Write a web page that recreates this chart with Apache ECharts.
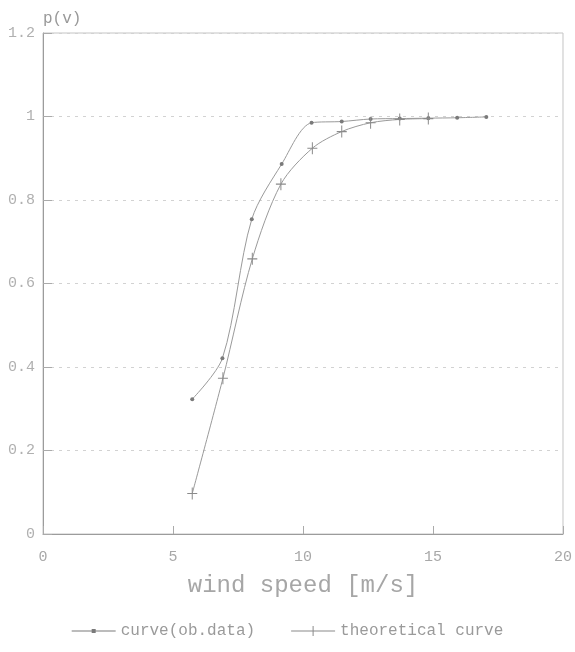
<!DOCTYPE html>
<html>
<head>
<meta charset="utf-8">
<script src="https://cdn.jsdelivr.net/npm/echarts@6/dist/echarts.min.js"></script>
<style>
  html, body { margin: 0; padding: 0; background: #fff; }
  #chart { width: 575px; height: 652px; }
</style>
</head>
<body>
<div id="chart"></div>
<script>
// wind speed [m/s] at each measured point
const windSpeed = [5.74, 6.9, 8.03, 9.18, 10.33, 11.49, 12.6, 13.72, 14.82, 15.93, 17.05];
// observed cumulative probability
const obData = [0.323, 0.421, 0.754, 0.886, 0.985, 0.988, 0.994, 0.995, 0.996, 0.997, 0.999];
// theoretical curve (ends earlier)
const theoSpeed = [5.74, 6.92, 8.05, 9.15, 10.36, 11.49, 12.6, 13.72, 14.82];
const theoData = [0.097, 0.373, 0.659, 0.838, 0.924, 0.964, 0.985, 0.993, 0.995];
const xTicks = [0, 5, 10, 15, 20];
const yTicks = [0, 0.2, 0.4, 0.6, 0.8, 1, 1.2];

const chart = echarts.init(document.getElementById("chart"));
const mono = "Liberation Mono";
const plusPath = "path://M0,4.5H10V5.5H0Z M4.5,0H5.5V10H4.5Z";

const option = {
  backgroundColor: "#fff",
  animation: false,
  grid: {
    left: 43,
    right: 12,
    top: 33,
    bottom: 118,
    show: true,
    borderColor: "#c4c4c4",
    borderWidth: 1,
  },
  graphic: [
    {
      type: "text",
      left: 43,
      top: 11,
      style: { text: "p(v)", font: "16px " + mono, fill: "#999" },
    },
  ],
  legend: {
    bottom: 8,
    left: "center",
    itemWidth: 44,
    itemHeight: 10,
    itemGap: 36,
    textStyle: { fontFamily: mono, fontSize: 16, color: "#9a9a9a" },
    data: [
      { name: "curve(ob.data)", icon: "path://M0,4.6H44V5.4H0Z M20,3H24V7H20Z" },
      { name: "theoretical curve", icon: "path://M0,4.6H44V5.4H0Z M21.5,0H22.5V10H21.5Z" },
    ],
  },
  xAxis: {
    type: "value",
    min: xTicks[0],
    max: xTicks[xTicks.length - 1],
    interval: 5,
    name: "wind speed [m/s]",
    nameLocation: "middle",
    nameGap: 40,
    nameTextStyle: { fontFamily: mono, fontSize: 24, color: "#a6a6a6" },
    axisLine: { lineStyle: { color: "#9c9c9c", width: 1 } },
    axisTick: { inside: true, length: 8, lineStyle: { color: "#aaa" } },
    axisLabel: { margin: 16, fontFamily: mono, fontSize: 15, color: "#a8a8a8" },
    splitLine: { show: false },
  },
  yAxis: {
    type: "value",
    min: yTicks[0],
    max: yTicks[yTicks.length - 1],
    interval: 0.2,
    axisLine: { show: true, lineStyle: { color: "#9c9c9c", width: 1 } },
    axisTick: { show: true, inside: true, length: 9, lineStyle: { color: "#aaa" } },
    axisLabel: { margin: 8, fontFamily: mono, fontSize: 15, color: "#b0b0b0" },
    splitLine: { show: true, lineStyle: { color: "#d2d2d2", type: [3, 5], width: 1 } },
  },
  series: [
    {
      name: "curve(ob.data)",
      type: "line",
      smooth: 0.3,
      data: windSpeed.map((v, i) => [v, obData[i]]),
      symbol: "circle",
      symbolSize: 4,
      color: "#7a7a7a",
      lineStyle: { color: "#9a9a9a", width: 1 },
      itemStyle: { color: "#7a7a7a" },
    },
    {
      name: "theoretical curve",
      type: "line",
      smooth: 0.3,
      data: theoSpeed.map((v, i) => [v, theoData[i]]),
      symbol: plusPath,
      symbolSize: [10, 12],
      color: "#8a8a8a",
      lineStyle: { color: "#9a9a9a", width: 1 },
      itemStyle: { color: "#8a8a8a" },
    },
  ],
};

chart.setOption(option);
</script>
</body>
</html>
